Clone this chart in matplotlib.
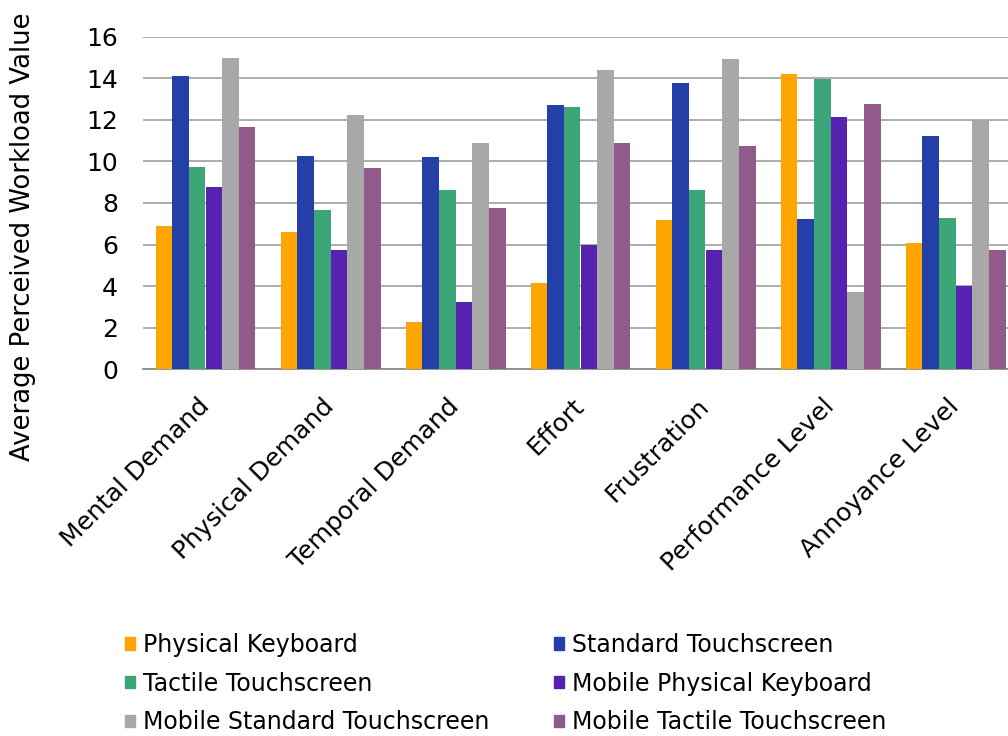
import numpy as np
import matplotlib
matplotlib.use("Agg")
import matplotlib.pyplot as plt
from matplotlib.patches import Patch

categories = ["Mental Demand", "Physical Demand", "Temporal Demand", "Effort",
              "Frustration", "Performance Level", "Annoyance Level"]

series_names = ["Physical Keyboard", "Standard Touchscreen", "Tactile Touchscreen",
                "Mobile Physical Keyboard", "Mobile Standard Touchscreen",
                "Mobile Tactile Touchscreen"]

physical_keyboard = [6.88, 6.60, 2.28, 4.15, 7.18, 14.21, 6.06]
standard_touch = [14.10, 10.26, 10.21, 12.72, 13.77, 7.21, 11.20]
tactile_touch = [9.73, 7.64, 8.64, 12.64, 8.64, 13.96, 7.29]
mobile_physical = [8.77, 5.72, 3.22, 5.96, 5.72, 12.12, 4.01]
mobile_standard = [14.97, 12.24, 10.88, 14.42, 14.95, 3.73, 11.99]
mobile_tactile = [11.65, 9.70, 7.74, 10.87, 10.75, 12.74, 5.75]

colors = ["#FFA500", "#253FA8", "#3DA679", "#5822B0", "#A8A8A8", "#915A8B"]

all_series = [physical_keyboard, standard_touch, tactile_touch,
              mobile_physical, mobile_standard, mobile_tactile]

plt.rcParams["font.family"] = ["DejaVu Sans"]

fig = plt.figure(figsize=(10.08, 7.36), dpi=100)
ax = fig.add_axes([143 / 1008, 1 - 369.3 / 736, 875 / 1008, 332.6 / 736])

x = np.arange(len(categories))
w = 0.8 / 6
for i, (vals, c) in enumerate(zip(all_series, colors)):
    ax.bar(x - 0.4 + w * (i + 0.5), vals, width=w, color=c, zorder=3)

ax.set_xlim(-0.5, len(categories) - 0.5)
ax.set_ylim(0, 16)
ax.set_yticks(np.arange(0, 17, 2))
ax.grid(axis="y", color="#A6A6A6", linewidth=1.3, zorder=0)
ax.set_axisbelow(True)
for s in ["top", "right", "left"]:
    ax.spines[s].set_visible(False)
ax.spines["bottom"].set_color("#8C8C8C")
ax.spines["bottom"].set_linewidth(1.3)

ax.tick_params(axis="y", length=0, pad=18, labelsize=18)
ax.tick_params(axis="x", length=0, pad=24, labelsize=18)
ax.set_xticks(x)
ax.set_xticklabels(categories, rotation=45, ha="right", va="center",
                   rotation_mode="anchor")

fig.text(23 / 1008, 1 - 237 / 736, "Average Perceived Workload Value",
         rotation=90, ha="center", va="center", fontsize=18.6)

# legend: columns filled top-to-bottom, so reorder
order = [0, 2, 4, 1, 3, 5]
handles = [Patch(color=colors[i]) for i in order]
labels = [series_names[i] for i in order]
fig.legend(handles, labels, ncol=2, loc="upper left",
           bbox_to_anchor=(125 / 1008, 1 - 633 / 736), frameon=False,
           fontsize=17, handlelength=0.42, handleheight=0.42,
           handletextpad=0.35, columnspacing=2.73, labelspacing=0.62,
           borderpad=0, borderaxespad=0)

fig.savefig("out.png", dpi=100)
